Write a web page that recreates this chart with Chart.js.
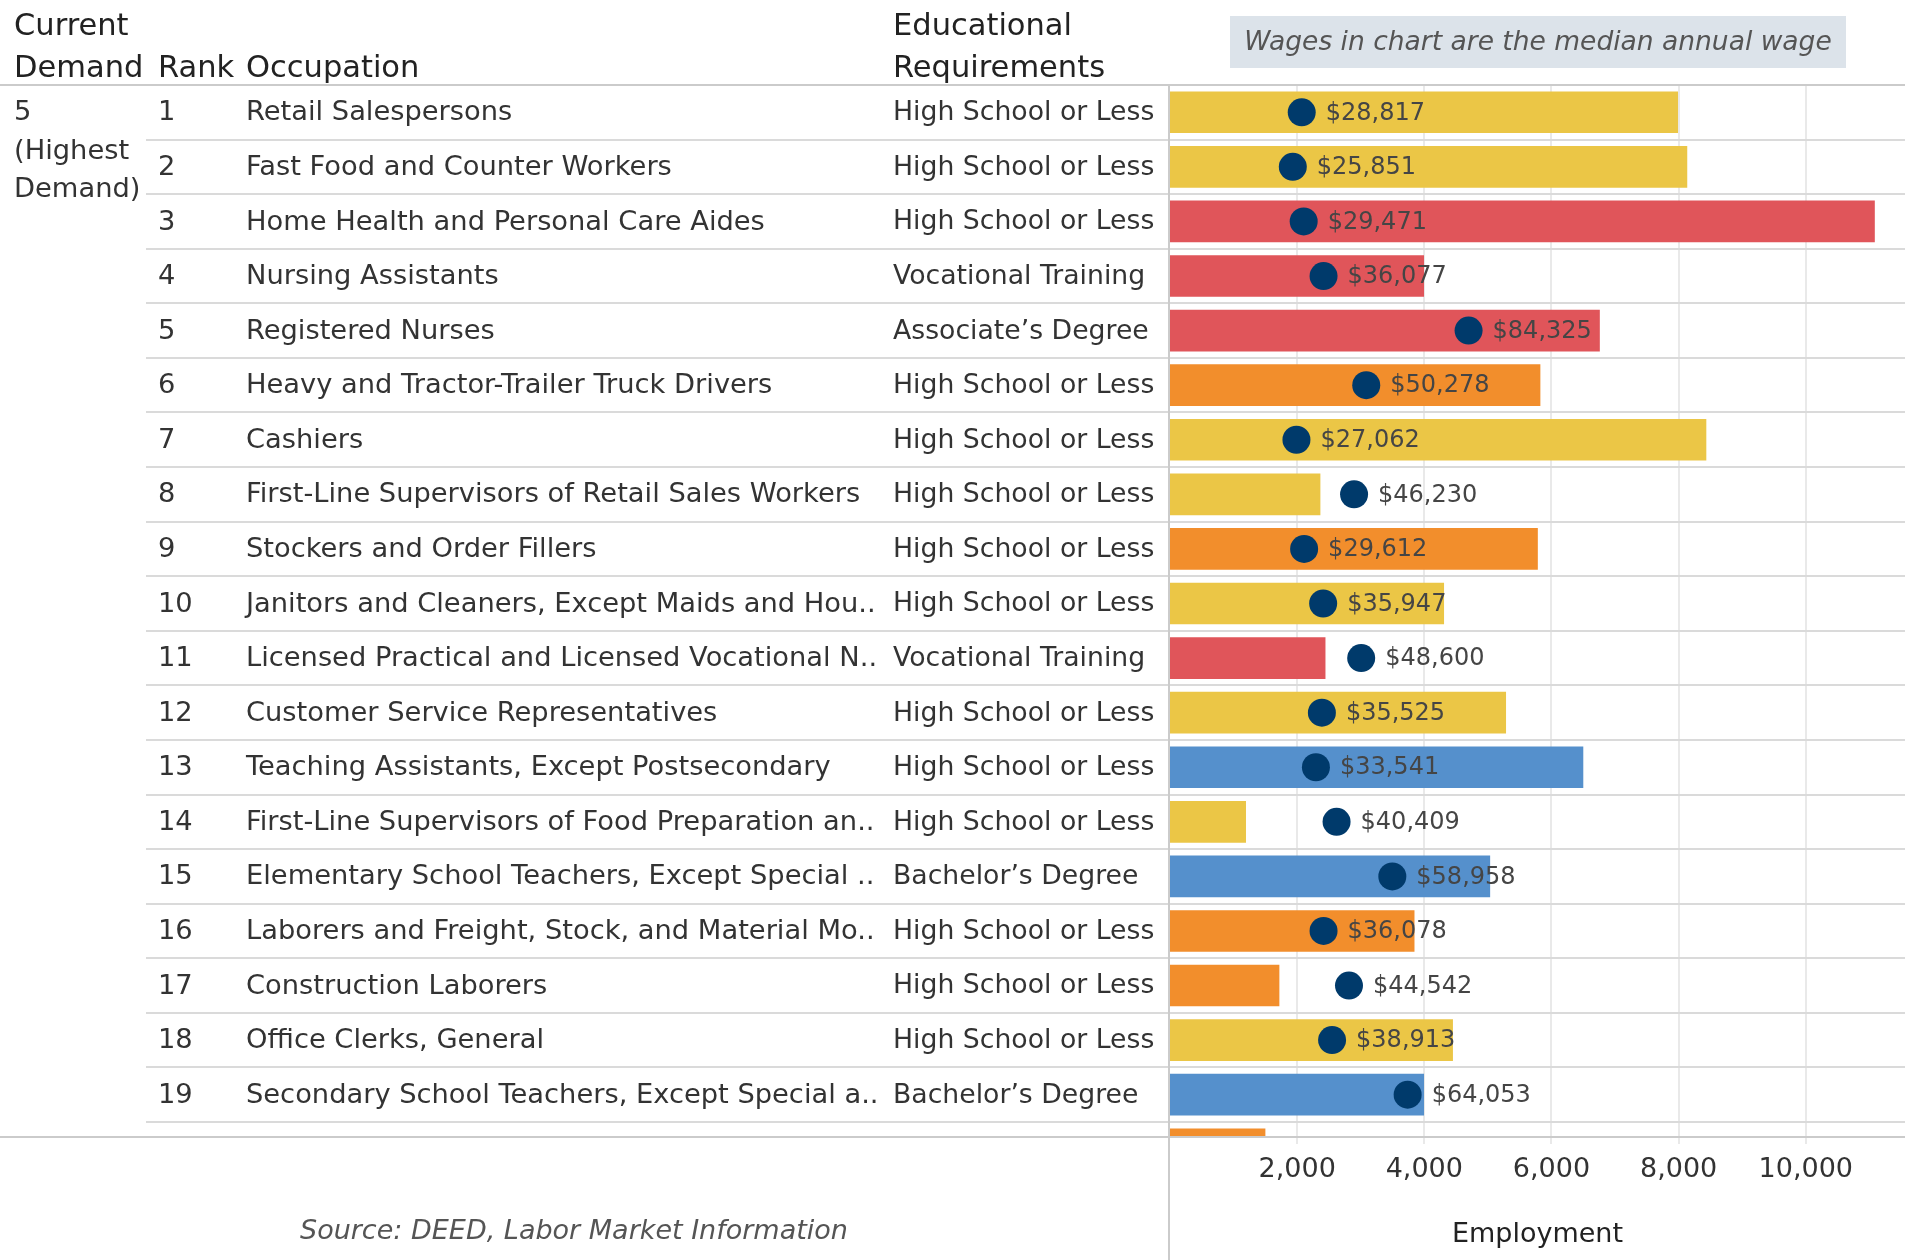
<!DOCTYPE html>
<html>
<head>
<meta charset="utf-8">
<script src="https://cdn.jsdelivr.net/npm/chart.js@4.4.1/dist/chart.umd.min.js"></script>
<style>
  html, body { margin: 0; padding: 0; background: #ffffff; }
  #wrap { position: relative; width: 1905px; height: 1260px; }
  canvas { display: block; }
</style>
</head>
<body>
<div id="wrap"><canvas id="chart" width="1905" height="1260"></canvas></div>
<script>
// ---------------- DATA ----------------
const ranks = [1, 2, 3, 4, 5, 6, 7, 8, 9, 10, 11, 12, 13, 14, 15, 16, 17, 18, 19];
const occupations = [
  "Retail Salespersons",
  "Fast Food and Counter Workers",
  "Home Health and Personal Care Aides",
  "Nursing Assistants",
  "Registered Nurses",
  "Heavy and Tractor-Trailer Truck Drivers",
  "Cashiers",
  "First-Line Supervisors of Retail Sales Workers",
  "Stockers and Order Fillers",
  "Janitors and Cleaners, Except Maids and Hou..",
  "Licensed Practical and Licensed Vocational N..",
  "Customer Service Representatives",
  "Teaching Assistants, Except Postsecondary",
  "First-Line Supervisors of Food Preparation an..",
  "Elementary School Teachers, Except Special ..",
  "Laborers and Freight, Stock, and Material Mo..",
  "Construction Laborers",
  "Office Clerks, General",
  "Secondary School Teachers, Except Special a.."
];
const education = [
  "High School or Less", "High School or Less", "High School or Less",
  "Vocational Training", "Associate\u2019s Degree", "High School or Less",
  "High School or Less", "High School or Less", "High School or Less",
  "High School or Less", "Vocational Training", "High School or Less",
  "High School or Less", "High School or Less", "Bachelor\u2019s Degree",
  "High School or Less", "High School or Less", "High School or Less",
  "Bachelor\u2019s Degree"
];
// employment (bar length); the 20th row is only partly visible at the bottom
const employment = [7985, 8130, 11080, 3990, 6755, 5820, 8430, 2360, 5780, 4305,
                    2440, 5280, 6495, 1190, 5030, 3840, 1715, 4445, 3990, 1495];
// median annual wage (dot)
const wages = [28817, 25851, 29471, 36077, 84325, 50278, 27062, 46230, 29612, 35947,
               48600, 35525, 33541, 40409, 58958, 36078, 44542, 38913, 64053];
// colour group of each bar
const groups = ["service", "service", "health", "health", "health", "transport",
                "service", "service", "transport", "service", "health", "service",
                "education", "service", "education", "transport", "transport",
                "service", "education", "transport"];
const employmentTicks = [2000, 4000, 6000, 8000, 10000];
const demandLabel = ["5", "(Highest", "Demand)"];
const headerLine1 = { demand: "Current", education: "Educational" };
const headerLine2 = { demand: "Demand", rank: "Rank", occupation: "Occupation", education: "Requirements" };
const noteText = "Wages in chart are the median annual wage";
const sourceText = "Source: DEED, Labor Market Information";
const axisTitle = "Employment";

// ---------------- STYLE ----------------
const groupColors = {
  service: "#ebc646",
  health: "#e0555a",
  transport: "#f28e2c",
  education: "#5590cc"
};
const FONT = '"DejaVu Sans", sans-serif';

const rowPositions = employment.map((_, i) => i + 1);
const rowBoundaries = ranks.map(r => r + 0.5);

const overlayPlugin = {
  id: 'overlay',
  afterDatasetsDraw(chart) {
    const { ctx } = chart;
    const meta = chart.getDatasetMeta(1);
    ctx.save();
    ctx.font = '24px ' + FONT;
    ctx.fillStyle = '#454545';
    ctx.textAlign = 'left';
    ctx.textBaseline = 'middle';
    meta.data.forEach((el, i) => {
      if (wages[i] == null) return;
      ctx.fillText('$' + wages[i].toLocaleString('en-US'), el.x + 24, el.y + 1);
    });
    ctx.restore();
  },
  afterDraw(chart) {
    const { ctx, chartArea, scales } = chart;
    const W = chart.width, H = chart.height;
    const { top, bottom, left, right } = chartArea;
    const y = scales.y;
    ctx.save();
    // structural lines
    ctx.strokeStyle = '#cbcbcb';
    ctx.lineWidth = 2;
    ctx.beginPath(); ctx.moveTo(0, top); ctx.lineTo(W, top); ctx.stroke();
    ctx.beginPath(); ctx.moveTo(0, bottom); ctx.lineTo(W, bottom); ctx.stroke();
    ctx.beginPath(); ctx.moveTo(left - 1, top); ctx.lineTo(left - 1, H); ctx.stroke();

    // header
    ctx.fillStyle = '#222';
    ctx.font = '30.5px ' + FONT;
    ctx.textAlign = 'left';
    ctx.textBaseline = 'alphabetic';
    const colDemand = 14, colRank = 158, colOcc = 246, colEdu = 893;
    ctx.fillText(headerLine1.demand, colDemand, top - 50);
    ctx.fillText(headerLine1.education, colEdu, top - 50);
    ctx.fillText(headerLine2.demand, colDemand, top - 8);
    ctx.fillText(headerLine2.rank, colRank, top - 8);
    ctx.fillText(headerLine2.occupation, colOcc, top - 8);
    ctx.fillText(headerLine2.education, colEdu, top - 8);

    // rows
    ctx.fillStyle = '#333';
    ctx.textBaseline = 'middle';
    ranks.forEach((r, i) => {
      const py = y.getPixelForValue(i + 1) + 1;
      ctx.font = '27.3px ' + FONT;
      ctx.fillText(String(r), colRank, py);
      ctx.fillText(occupations[i], colOcc, py);
      ctx.font = '26.7px ' + FONT;
      ctx.fillText(education[i], colEdu, py);
    });
    ctx.font = '27.3px ' + FONT;
    const y0 = y.getPixelForValue(1) + 1;
    demandLabel.forEach((t, k) => {
      ctx.fillText(t, colDemand, y0 + k * 38.5);
    });

    // note box
    const bx = left + 60, bw = right - 59 - bx, by = 16, bh = 52;
    ctx.fillStyle = '#dce3ea';
    ctx.fillRect(bx, by, bw, bh);
    ctx.fillStyle = '#555';
    ctx.font = 'italic 26.5px ' + FONT;
    ctx.textAlign = 'center';
    ctx.fillText(noteText, bx + bw / 2, by + bh / 2 + 1);

    // source
    ctx.textAlign = 'left';
    ctx.font = 'italic 27px ' + FONT;
    ctx.fillText(sourceText, 300, H - 28);
    ctx.restore();
  }
};

new Chart(document.getElementById('chart'), {
  data: {
    datasets: [
      {
        type: 'bar',
        indexAxis: 'y',
        xAxisID: 'x',
        yAxisID: 'y',
        data: employment.map((v, i) => ({ x: v, y: rowPositions[i] })),
        backgroundColor: groups.map(g => groupColors[g]),
        borderWidth: 0,
        barThickness: 41,
        grouped: false,
        order: 2
      },
      {
        type: 'scatter',
        xAxisID: 'xw',
        yAxisID: 'y',
        data: wages.map((w, i) => ({ x: w, y: rowPositions[i] })),
        pointRadius: 14,
        pointHoverRadius: 14,
        pointBackgroundColor: '#003a6b',
        pointBorderWidth: 0,
        order: 1
      }
    ]
  },
  options: {
    responsive: false,
    animation: false,
    devicePixelRatio: 1,
    layout: { autoPadding: false, padding: { top: 85, left: 0, right: 0, bottom: 0 } },
    plugins: { legend: { display: false }, tooltip: { enabled: false }, title: { display: false } },
    events: [],
    scales: {
      x: {
        type: 'linear',
        position: 'bottom',
        min: 0,
        max: 11560,
        offset: false,
        afterBuildTicks: s => { s.ticks = employmentTicks.map(v => ({ value: v })); },
        afterFit: s => { s.height = 123; s.paddingLeft = 0; s.paddingRight = 0; },
        grid: { color: '#e9e9e9', lineWidth: 2, tickLength: 7, drawTicks: true, offset: false },
        border: { display: false },
        ticks: {
          font: { family: FONT, size: 27 },
          color: '#333',
          padding: 10,
          maxRotation: 0,
          autoSkip: false,
          callback: v => Number(v).toLocaleString('en-US')
        },
        title: {
          display: true,
          text: axisTitle,
          font: { family: FONT, size: 27 },
          color: '#222',
          padding: { top: 0, bottom: 9 }
        }
      },
      xw: {
        type: 'linear',
        display: false,
        offset: false,
        min: -15000,
        max: 229500
      },
      y: {
        type: 'linear',
        position: 'left',
        reverse: true,
        offset: false,
        min: 0.5,
        max: 19.775,
        afterBuildTicks: s => { s.ticks = rowBoundaries.map(v => ({ value: v })); },
        afterFit: s => { s.width = 1170; s.paddingTop = 0; s.paddingBottom = 0; },
        ticks: { display: false },
        grid: { color: '#dadada', lineWidth: 2, tickLength: 1024, drawTicks: true, offset: false },
        border: { display: false }
      }
    }
  },
  plugins: [overlayPlugin]
});
</script>
</body>
</html>
